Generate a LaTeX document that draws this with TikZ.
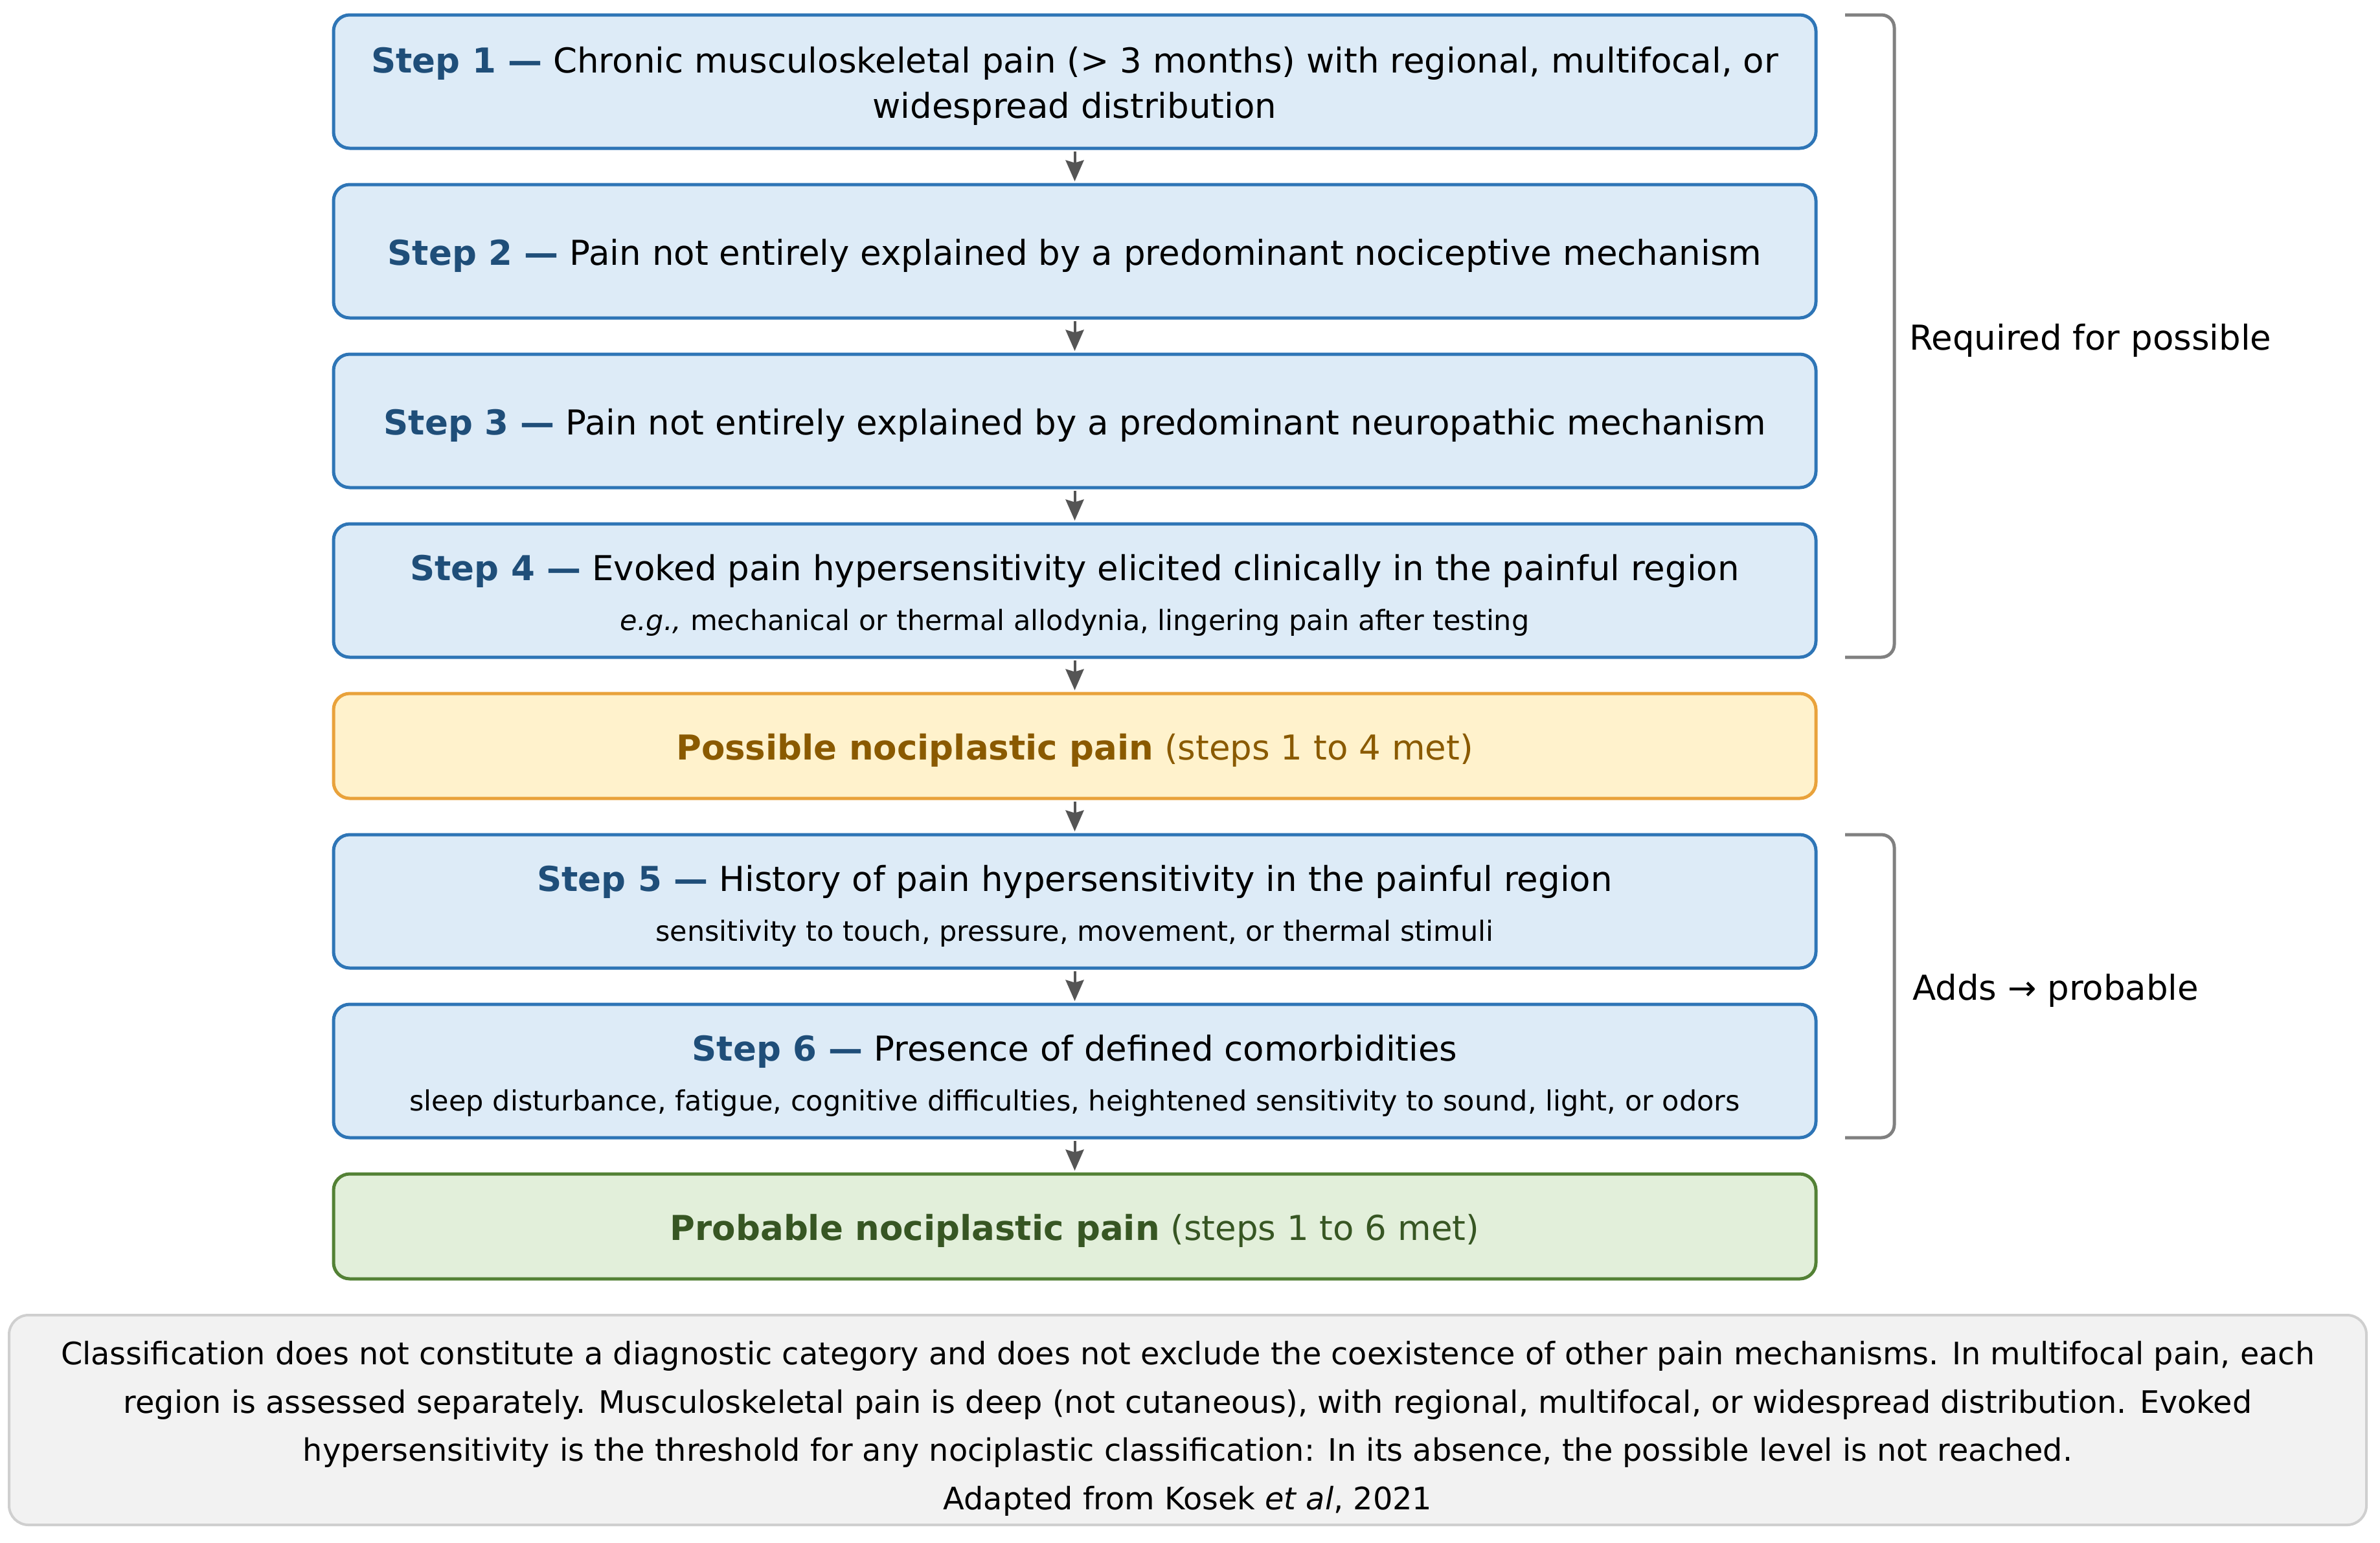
\documentclass[tikz,border=0pt]{standalone}
\usepackage{fontspec}
\setmainfont{DejaVu Sans}
\usetikzlibrary{positioning,arrows.meta,calc}

\definecolor{stepfill}{HTML}{DDEBF7}
\definecolor{stepborder}{HTML}{2E75B6}
\definecolor{steplabel}{HTML}{1F4E79}
\definecolor{possfill}{HTML}{FFF2CC}
\definecolor{possborder}{HTML}{E9A23B}
\definecolor{posstext}{HTML}{8A5A00}
\definecolor{probfill}{HTML}{E2EFDA}
\definecolor{probborder}{HTML}{538135}
\definecolor{probtext}{HTML}{375623}
\definecolor{notefill}{HTML}{F2F2F2}
\definecolor{noteborder}{HTML}{CFCFCF}
\definecolor{arrowgray}{HTML}{555555}
\definecolor{bracketgray}{HTML}{808080}

\newcommand{\steplab}[1]{\rule{0pt}{10.9pt}\textbf{\color{steplabel}Step #1 —}}
\newcommand{\subline}{\fontsize{8.6}{12}\selectfont}

\begin{document}
\begin{tikzpicture}
			[
				node distance = 11.2pt,
				font          = \fontsize{10.6}{14}\selectfont,
				textdown/.style = {execute at begin node={\rule{0pt}{#1}}},
				box/.style    = {draw, line width=1pt, rounded corners=5pt, minimum width=457.8pt, align=center,
				                 inner sep=0pt, outer sep=0pt, textdown=10.9pt},
				stepbox/.style = {box, draw=stepborder, fill=stepfill, minimum height=41.2pt},
				possbox/.style = {box, draw=possborder, fill=possfill, minimum height=32.4pt, text=posstext},
				probbox/.style = {box, draw=probborder, fill=probfill, minimum height=32.4pt, text=probtext},
				flow/.style   = {draw=arrowgray, line width=0.8pt, shorten <=1pt, shorten >=1pt,
				                 -{Stealth[length=6.5pt, width=5.6pt, inset=0.8pt, fill=arrowgray]}},
				bracket/.style = {draw=bracketgray, line width=1pt, rounded corners=4pt},
				bracketlabel/.style = {anchor=west, inner sep=0pt, yshift=-1.4pt}
			]
			\useasboundingbox (0,0) rectangle (735pt,-476.4pt);

			\node [stepbox, anchor=north] (s1) at (331.9pt,-4.6pt)
				{\steplab{1} Chronic musculoskeletal pain (> 3 months) with regional, multifocal, or\\widespread distribution};
			\node [stepbox, below=of s1] (s2)
				{\steplab{2} Pain not entirely explained by a predominant nociceptive mechanism};
			\node [stepbox, below=of s2] (s3)
				{\steplab{3} Pain not entirely explained by a predominant neuropathic mechanism};
			\node [stepbox, below=of s3] (s4)
				{\steplab{4} Evoked pain hypersensitivity elicited clinically in the painful region\\[1.5pt]
				 \subline\textit{e.g.,} mechanical or thermal allodynia, lingering pain after testing};
			\node [possbox, below=of s4] (poss)
				{\textbf{Possible nociplastic pain} (steps 1 to 4 met)};
			\node [stepbox, below=of poss] (s5)
				{\steplab{5} History of pain hypersensitivity in the painful region\\[1.5pt]
				 \subline sensitivity to touch, pressure, movement, or thermal stimuli};
			\node [stepbox, below=of s5] (s6)
				{\steplab{6} Presence of defined comorbidities\\[1.5pt]
				 \subline sleep disturbance, fatigue, cognitive difficulties, heightened sensitivity to sound, light, or odors};
			\node [probbox, below=of s6] (prob)
				{\textbf{Probable nociplastic pain} (steps 1 to 6 met)};

			\node [draw=noteborder, fill=notefill, line width=0.8pt, rounded corners=6pt,
			       minimum width=728pt, minimum height=64.8pt, align=center, inner sep=0pt, outer sep=0pt,
			       font=\fontsize{9.55}{14.9}\selectfont, below=of prob, xshift=34.9pt] (note)
				{\rule{0pt}{12.5pt}Classification does not constitute a diagnostic category and does not exclude the coexistence of other pain mechanisms. In multifocal pain, each\\
				 region is assessed separately. Musculoskeletal pain is deep (not cutaneous), with regional, multifocal, or widespread distribution. Evoked\\
				 hypersensitivity is the threshold for any nociplastic classification: In its absence, the possible level is not reached.\\
				 Adapted from Kosek \textit{et al}, 2021};

			\draw [flow] (s1) -- (s2);
			\draw [flow] (s2) -- (s3);
			\draw [flow] (s3) -- (s4);
			\draw [flow] (s4) -- (poss);
			\draw [flow] (poss) -- (s5);
			\draw [flow] (s5) -- (s6);
			\draw [flow] (s6) -- (prob);

			\draw [bracket] ([xshift=9pt]s1.north east) -- ++(15.2pt,0) |- ([xshift=9pt]s4.south east);
			\draw [bracket] ([xshift=9pt]s5.north east) -- ++(15.2pt,0) |- ([xshift=9pt]s6.south east);

			\node [bracketlabel] (req) at ($(s1.north east)!0.5!(s4.south east) + (28.6pt,0)$) {Required for possible};
			\node [bracketlabel] (adds) at ($(s5.north east)!0.5!(s6.south east) + (29.6pt,0)$) {Adds → probable};
		\end{tikzpicture}
\end{document}
